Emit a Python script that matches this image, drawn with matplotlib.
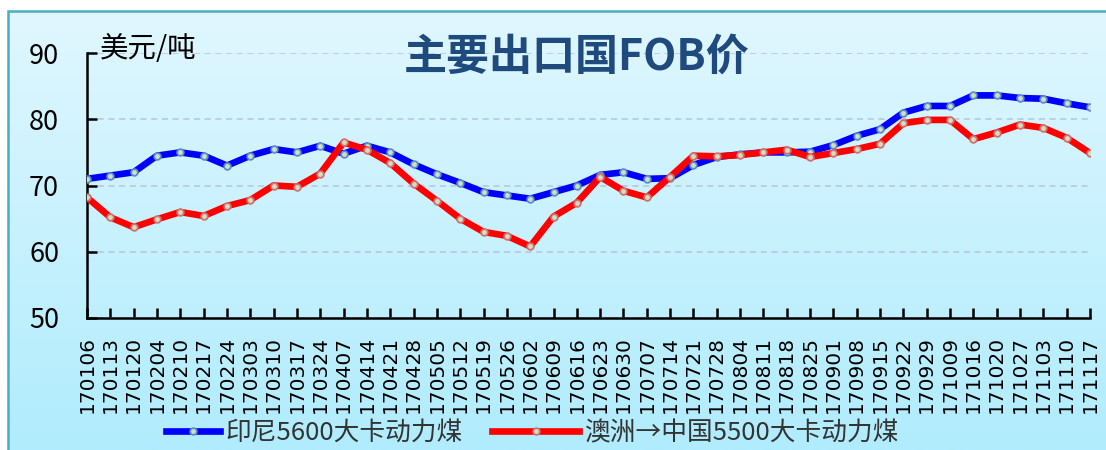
import matplotlib
matplotlib.use("Agg")
import matplotlib.pyplot as plt
import numpy as np
from matplotlib.patches import Rectangle

plt.rcParams['font.family'] = ['Noto Sans CJK SC', 'DejaVu Sans']

dates = ['170106', '170113', '170120', '170204', '170210', '170217', '170224',
         '170303', '170310', '170317', '170324', '170407', '170414', '170421',
         '170428', '170505', '170512', '170519', '170526', '170602', '170609',
         '170616', '170623', '170630', '170707', '170714', '170721', '170728',
         '170804', '170811', '170818', '170825', '170901', '170908', '170915',
         '170922', '170929', '171009', '171016', '171020', '171027', '171103',
         '171110', '171117']

indonesia = [71.0, 71.5, 72.0, 74.5, 75.0, 74.5, 73.0, 74.5, 75.5, 75.0, 76.0,
             74.8, 76.0, 75.0, 73.2, 71.7, 70.4, 69.0, 68.5, 68.0, 69.0, 70.0,
             71.6, 72.0, 71.0, 71.1, 73.1, 74.3, 74.7, 75.0, 75.0, 75.1, 76.1,
             77.5, 78.5, 81.0, 82.0, 82.0, 83.6, 83.6, 83.2, 83.1, 82.4, 81.8]

australia = [68.2, 65.2, 63.7, 64.9, 66.0, 65.4, 66.9, 67.8, 70.0, 69.8, 71.8,
             76.5, 75.4, 73.4, 70.3, 67.7, 65.0, 63.0, 62.4, 60.8, 65.3, 67.4,
             71.3, 69.2, 68.2, 71.3, 74.5, 74.4, 74.6, 75.0, 75.4, 74.3, 74.9,
             75.5, 76.3, 79.4, 79.9, 79.9, 77.0, 78.0, 79.2, 78.7, 77.2, 74.9]

names = ['印尼5600大卡动力煤', '澳洲→中国5500大卡动力煤']

W, H = 1106, 450
fig = plt.figure(figsize=(W / 100, H / 100), dpi=100, facecolor='white')

# light blue gradient background with a thin frame
bg = fig.add_axes([8 / W, 0, 1 - 8 / W, 1 - 11 / H], zorder=-5)
grad = np.linspace(0, 1, 256).reshape(-1, 1)
top = np.array([224, 247, 255]) / 255
bot = np.array([176, 236, 253]) / 255
img = top + (bot - top) * grad[:, :, None]
bg.imshow(img, aspect='auto', extent=[0, 1, 0, 1])
bg.set_axis_off()
fig.patches.append(Rectangle((8 / W, -0.01), 1.0, 1 - 11 / H + 0.01,
                             transform=fig.transFigure, fill=False,
                             edgecolor='#4BACC6', lw=1.8, zorder=5))

ax = fig.add_axes([87 / W, 1 - 318 / H, (1090 - 87) / W, (318 - 53) / H])
ax.set_facecolor('none')

x = np.arange(len(dates))
l1, = ax.plot(x, indonesia, color='#0000FF', lw=4.8, marker='o', ms=4.8,
              mfc='#D3DEC0', mec='#5A8CC8', mew=1.3, solid_joinstyle='round',
              label=names[0], zorder=3)
l2, = ax.plot(x, australia, color='#FF0000', lw=4.8, marker='o', ms=4.8,
              mfc='#D3DEC0', mec='#D07070', mew=1.3, solid_joinstyle='round',
              label=names[1], zorder=4)

ax.set_xlim(0, len(dates) - 1)
ax.set_ylim(50, 90)
ax.set_yticks([50, 60, 70, 80, 90])
ax.set_xticks(x)
ax.set_xticklabels(dates, rotation=90, family='DejaVu Sans', fontsize=14.5)
ax.tick_params(axis='y', direction='in', length=7, width=1.8, pad=20,
               labelsize=19.5)
ax.tick_params(axis='x', direction='in', length=7, width=1.8, pad=13)
for s in ['top', 'right']:
    ax.spines[s].set_visible(False)
for s in ['left', 'bottom']:
    ax.spines[s].set_linewidth(1.8)
ax.grid(axis='y', color='#B8C2E2', lw=1.1, linestyle=(0, (4, 3)))
ax.set_axisbelow(True)

fig.text(100 / W, 1 - 49 / H, '美元/吨', fontsize=20.5, va='center',
         ha='left', color='black')
fig.text(577 / W, 1 - 57 / H, '主要出口国FOB价', fontsize=31, fontweight='bold',
         color='#1F4A7D', ha='center', va='center')

fig.legend(handles=[l1], loc='center left', bbox_to_anchor=(166 / W, 1 - 433 / H),
           frameon=False, fontsize=18.5, handlelength=2.1, handletextpad=0.2,
           borderpad=0, borderaxespad=0, labelcolor='#333333')
fig.legend(handles=[l2], loc='center left', bbox_to_anchor=(492 / W, 1 - 433 / H),
           frameon=False, fontsize=18.5, handlelength=3.4, handletextpad=0.2,
           borderpad=0, borderaxespad=0, labelcolor='#333333')

fig.savefig('out.png', dpi=100, facecolor='white')
